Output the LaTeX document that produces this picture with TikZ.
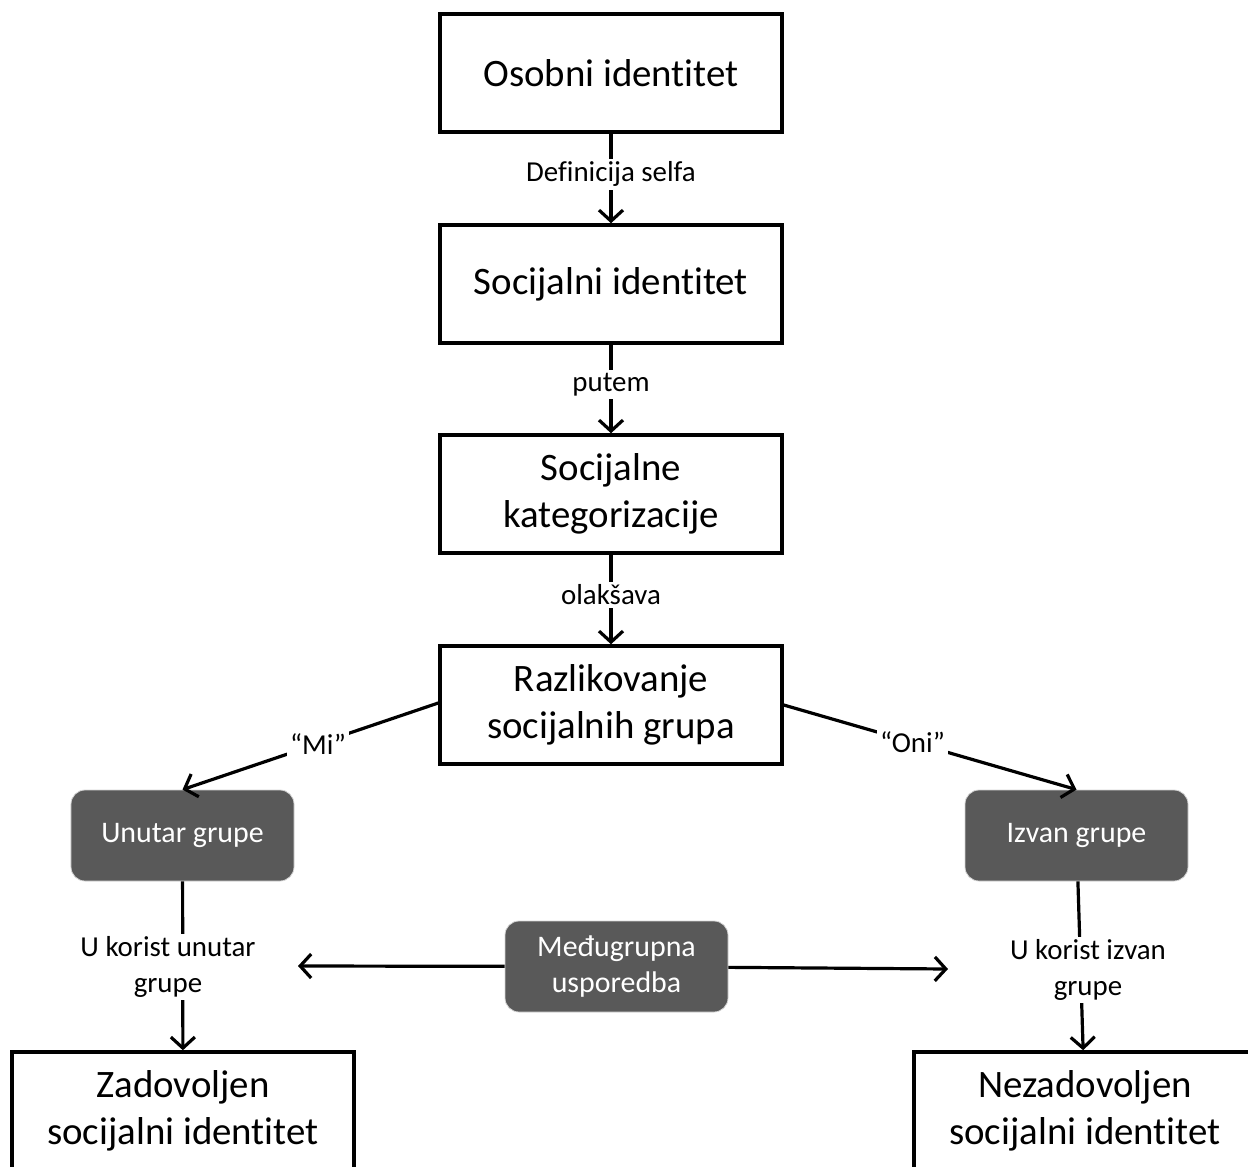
\documentclass[tikz,border=0pt]{standalone}
\usepackage{fontspec}
\setmainfont[Ligatures=NoCommon]{Carlito}
\usetikzlibrary{arrows.meta}
\definecolor{darkbox}{HTML}{595959}
\begin{document}
\begin{tikzpicture}[x=1bp,y=-1bp,
  mainbox/.style={draw=black, line width=3.5bp, minimum width=342bp, minimum height=118bp,
     align=center, font=\fontsize{39}{47}\selectfont, inner sep=0pt},
  greybox/.style={fill=darkbox, draw=white!75!darkbox, line width=0.8bp, rounded corners=14bp, text=white,
     minimum width=223bp, minimum height=91bp, align=center, font=\fontsize{30}{37}\selectfont, inner sep=0pt},
  lbl/.style={fill=white, align=center, font=\fontsize{29}{36}\selectfont, inner sep=3bp},
  conn/.style={line width=3.2bp, -{Straight Barb[length=11bp,width=24bp,line width=3.2bp]}}]
\useasboundingbox (0,0) rectangle (1248,1167);
\clip (0,0) rectangle (1248,1167);
\node[mainbox] (b1) at (611,73) {Osobni identitet};
\node[mainbox] (b2) at (611,284) {Socijalni identitet};
\node[mainbox] (b3) at (611,494) {Socijalne\\kategorizacije};
\node[mainbox] (b4) at (611,705) {Razlikovanje\\socijalnih grupa};
\node[greybox] (in) at (182.5,835.5) {Unutar grupe};
\node[greybox] (out) at (1076.5,835.5) {Izvan grupe};
\node[greybox] (cmp) at (616.5,966.5) {Međugrupna\\usporedba};
\node[mainbox] (sat) at (183,1111) {Zadovoljen\\socijalni identitet};
\node[mainbox] (unsat) at (1085,1111) {Nezadovoljen\\socijalni identitet};
\coordinate (cl) at (298,966);
\coordinate (cr) at (948,969);

\draw[conn] (b1) -- node[lbl, pos=0.45] {Definicija selfa} (b2);
\draw[conn] (b2) -- node[lbl, pos=0.45] {putem} (b3);
\draw[conn] (b3) -- node[lbl, pos=0.45] {olakšava} (b4);
\draw[conn] (b4.west |- 0,703) -- node[lbl, pos=0.47] {“Mi”} (in.north);
\draw[conn] (b4.east |- 0,705) -- node[lbl, pos=0.44] {“Oni”} (out.north);
\draw[conn] (in) -- (sat);
\node[lbl] (lin) at (168,967) {U korist unutar\\grupe};
\draw[conn] (out) -- (unsat);
\node[lbl] (lout) at (1088,970) {U korist izvan\\grupe};
\draw[conn] (cmp) -- (cl);
\draw[conn] (cmp) -- (cr);
\end{tikzpicture}
\end{document}
